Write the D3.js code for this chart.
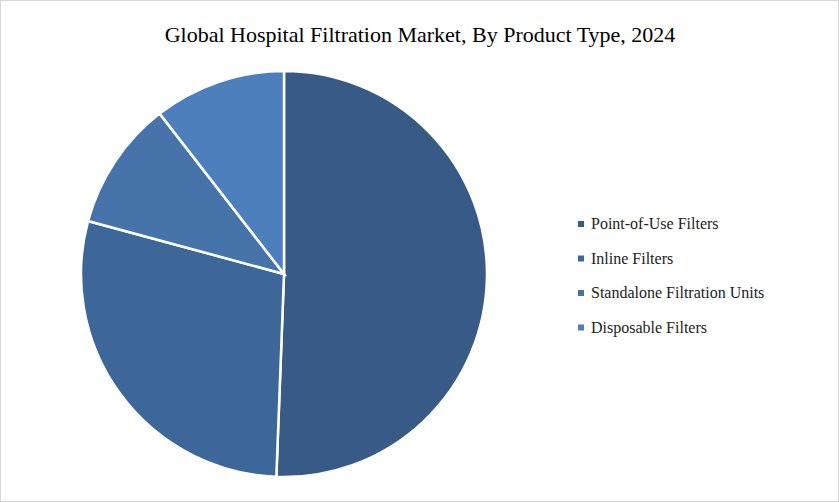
<!DOCTYPE html>
<html><head><meta charset="utf-8">
<script src="https://cdn.jsdelivr.net/npm/d3@7"></script>
<style>body{margin:0;background:#fff}svg{font-family:"Liberation Serif","DejaVu Serif",serif}</style>
</head><body><svg id="c" width="839" height="502"></svg>
<script>
const categories=["Point-of-Use Filters","Inline Filters","Standalone Filtration Units","Disposable Filters"];
const values=[50.6,28.6,10.3,10.5];
const colors=["#375a86","#3d6699","#4573aa","#4d7fbc"];
const svg=d3.select("#c");
svg.append("rect").attr("x",0.5).attr("y",0.5).attr("width",838).attr("height",501).attr("fill","#fff").attr("stroke","#d9d9d9");
svg.append("text").attr("x",420).attr("y",42).attr("text-anchor","middle").attr("font-size",22).attr("fill","#000").text("Global Hospital Filtration Market, By Product Type, 2024");
const pie=d3.pie().sort(null).value(d=>d);
const arc=d3.arc().innerRadius(0).outerRadius(203);
const g=svg.append("g").attr("transform","translate(284,274)");
g.selectAll("path").data(pie(values)).join("path").attr("d",arc).attr("fill",(d,i)=>colors[i]).attr("stroke","#fff").attr("stroke-width",2.5);
const lg=svg.append("g").attr("transform","translate(578,224)");
categories.forEach((c,i)=>{
 const r=lg.append("g").attr("transform",`translate(0,${i*34.5})`);
 r.append("rect").attr("x",0).attr("y",-3).attr("width",6).attr("height",6).attr("fill",colors[i]);
 r.append("text").attr("x",13).attr("y",5).attr("font-size",16).attr("fill","#222").text(c);
});
</script></body></html>
